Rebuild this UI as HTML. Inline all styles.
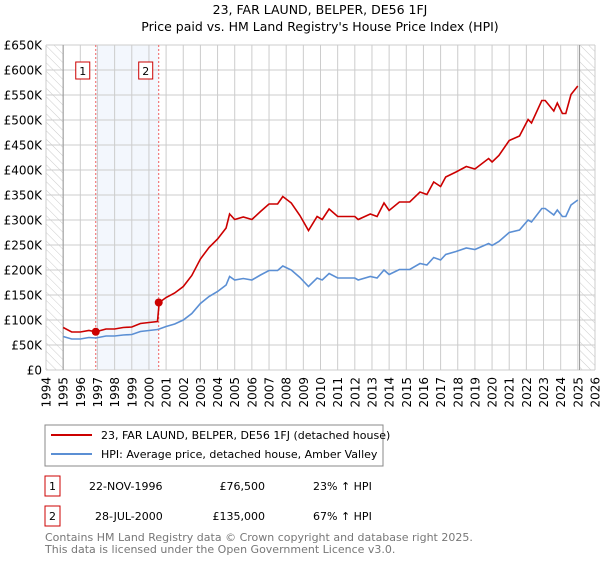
<!DOCTYPE html>
<html><head><meta charset="utf-8"><style>
body{margin:0;background:#fff;font-family:"Liberation Sans","DejaVu Sans",sans-serif;}
svg text{font-family:"DejaVu Sans","Liberation Sans",sans-serif;}
</style></head><body>
<svg width="600" height="560" viewBox="0 0 600 560">
<defs><pattern id="hatch" width="6" height="6" patternUnits="userSpaceOnUse" patternTransform="rotate(-45)"><line x1="0" y1="0" x2="0" y2="6" stroke="#ccc" stroke-width="1"/></pattern></defs>
<text x="320" y="14" font-size="12.5" text-anchor="middle">23, FAR LAUND, BELPER, DE56 1FJ</text>
<text x="320" y="31" font-size="12.5" text-anchor="middle">Price paid vs. HM Land Registry's House Price Index (HPI)</text>
<g id="plot"></g>
<g>
<rect x="45" y="425" width="338" height="41" fill="#fff" stroke="#888"/>
<line x1="51" y1="435" x2="92" y2="435" stroke="#cc0000" stroke-width="2"/>
<text x="101" y="439" font-size="11">23, FAR LAUND, BELPER, DE56 1FJ (detached house)</text>
<line x1="51" y1="454" x2="92" y2="454" stroke="#5b8fd4" stroke-width="2"/>
<text x="101" y="458" font-size="11">HPI: Average price, detached house, Amber Valley</text>
</g>
<g font-size="11">
<rect x="45" y="476" width="15" height="20" fill="#fff" stroke="#cc0000"/><text x="52.5" y="490" text-anchor="middle">1</text>
<text x="89" y="490">22-NOV-1996</text><text x="265" y="490" text-anchor="end">£76,500</text><text x="313" y="490">23% ↑ HPI</text>
<rect x="45" y="506" width="15" height="20" fill="#fff" stroke="#cc0000"/><text x="52.5" y="520" text-anchor="middle">2</text>
<text x="95" y="520">28-JUL-2000</text><text x="265" y="520" text-anchor="end">£135,000</text><text x="313" y="520">67% ↑ HPI</text>
</g>
<g font-size="11" fill="#777">
<text x="45" y="541">Contains HM Land Registry data © Crown copyright and database right 2025.</text>
<text x="45" y="553">This data is licensed under the Open Government Licence v3.0.</text>
</g>
</svg>
<script>
const hpiYears=[1995.0,1995.5,1996,1996.5,1996.9,1997.5,1998,1998.5,1999,1999.5,2000,2000.5,2000.6,2001,2001.5,2002,2002.5,2003,2003.5,2004,2004.5,2004.7,2005,2005.5,2006,2006.5,2007,2007.5,2007.8,2008.3,2008.8,2009.3,2009.8,2010.1,2010.5,2011,2012,2012.2,2012.9,2013.3,2013.7,2014,2014.6,2015.2,2015.8,2016.2,2016.6,2017,2017.3,2017.9,2018.5,2019,2019.8,2020,2020.4,2021,2021.6,2022.1,2022.3,2022.9,2023.1,2023.6,2023.8,2024.1,2024.3,2024.6,2025];
const hpiValues=[67,62,62,65,64,68,68,70,71,77,79,81,82,87,92,100,113,133,147,157,170,187,180,183,180,190,199,199,208,200,185,167,184,180,193,184,184,180,187,184,200,191,201,201,213,210,225,220,231,237,244,241,253,249,257,275,280,300,296,323,323,310,320,307,307,330,340];
const priceValues=[85,76,76,79,76.5,82,82,85,86,93,95,97,135,145,154,167,189,222,245,262,284,312,301,306,301,317,332,332,347,334,309,279,307,301,322,307,307,301,312,307,334,319,336,336,356,351,376,367,386,396,407,402,423,416,429,459,468,501,494,539,539,518,534,513,513,551,568];
const saleYears=[1996.9,2000.57];
const salePrices=[76.5,135];
const saleLabels=["1","2"];
const yTicks=[0,50,100,150,200,250,300,350,400,450,500,550,600,650];
const yTickLabels=["£0","£50K","£100K","£150K","£200K","£250K","£300K","£350K","£400K","£450K","£500K","£550K","£600K","£650K"];
const xTicks=[1994,1995,1996,1997,1998,1999,2000,2001,2002,2003,2004,2005,2006,2007,2008,2009,2010,2011,2012,2013,2014,2015,2016,2017,2018,2019,2020,2021,2022,2023,2024,2025,2026];
const X0=46,X1=595,Y0=370,Y1=45;
const xs=t=>X0+(t-1994)/(2026-1994)*(X1-X0);
const ys=v=>Y0-v/650*(Y0-Y1);
const NS="http://www.w3.org/2000/svg";
const g=document.getElementById('plot');
function mk(tag,attrs,parent){const e=document.createElementNS(NS,tag);for(const k in attrs)e.setAttribute(k,attrs[k]);(parent||g).appendChild(e);return e;}
// shaded band
let e=mk('rect',{x:xs(saleYears[0]),y:Y1,width:xs(saleYears[1])-xs(saleYears[0]),height:Y0-Y1,fill:'#eef3fc',opacity:0.7});


// hatch
e=mk('rect',{x:X0,y:Y1,width:xs(1995)-X0,height:Y0-Y1,fill:'url(#hatch)'});


e=mk('rect',{x:xs(2025.1),y:Y1,width:X1-xs(2025.1),height:Y0-Y1,fill:'url(#hatch)'});


// grid
yTicks.forEach((v,i)=>{
 const l=mk('line',{x1:X0,x2:X1,y1:ys(v),y2:ys(v),stroke:'#ccc'});
 
 
 const t=mk('text',{x:X0-4,y:ys(v)+4.5,'font-size':12,'text-anchor':'end'});t.textContent=yTickLabels[i];
 
 
});
xTicks.forEach(yr=>{
 const l=mk('line',{x1:xs(yr),x2:xs(yr),y1:Y1,y2:Y0,stroke:'#ccc'});
 
 
 const t=mk('text',{x:0,y:0,'font-size':12,'text-anchor':'end',transform:`translate(${xs(yr)+4.5},${Y0+7}) rotate(-90)`});t.textContent=yr;
 
 
});
e=mk('line',{x1:xs(1995),x2:xs(1995),y1:Y1,y2:Y0,stroke:'#999'});


e=mk('line',{x1:xs(2025.1),x2:xs(2025.1),y1:Y1,y2:Y0,stroke:'#999'});


// sale lines
saleYears.forEach((yr,i)=>{
 const l=mk('line',{x1:xs(yr),x2:xs(yr),y1:Y1,y2:Y0,stroke:'#f06060','stroke-dasharray':'2,2'});
 
 
 const r=mk('rect',{x:xs(yr)-20,y:62,width:14,height:17,fill:'#fff',stroke:'#cc0000'});
 
 
 const t=mk('text',{x:xs(yr)-13,y:75,'font-size':11,'text-anchor':'middle'});t.textContent=saleLabels[i];
 
 
});
function path(vals,color,name){
 const d=hpiYears.map((t,i)=>(i?'L':'M')+xs(t).toFixed(1)+','+ys(vals[i]).toFixed(1)).join('');
 const p=mk('path',{d:d,fill:'none',stroke:color,'stroke-width':1.6});
 
 
}
path(hpiValues,'#5b8fd4','hpi-line');
path(priceValues,'#cc0000','price-line');
saleYears.forEach((yr,i)=>{
 const c=mk('circle',{cx:xs(yr),cy:ys(salePrices[i]),r:4,fill:'#cc0000'});
 
 
});
</script>
</body></html>
